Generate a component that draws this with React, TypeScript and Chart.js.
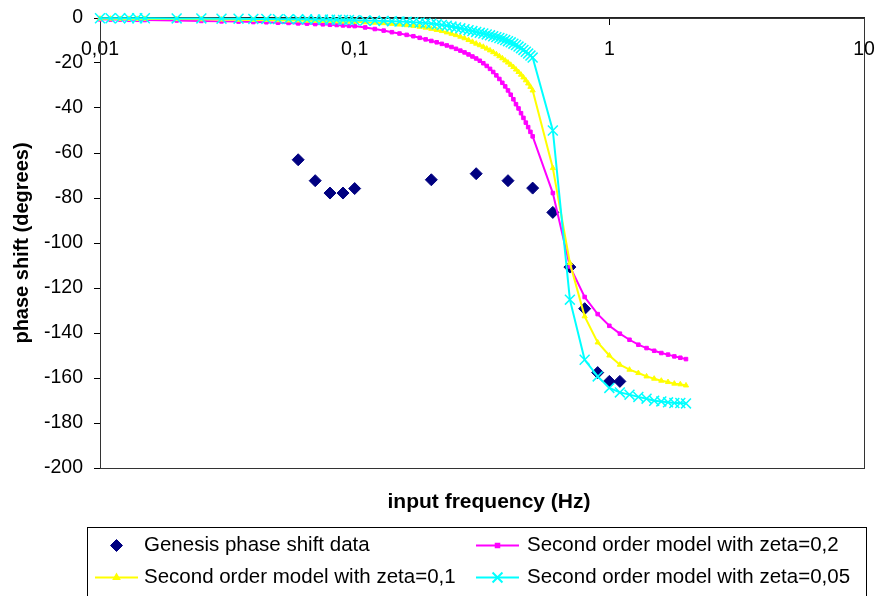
import { useEffect, useRef } from 'react';
import { Chart, registerables } from 'chart.js';
import { drawPoint } from 'chart.js/helpers';

Chart.register(...registerables);

// Input frequencies (Hz) at which the second order models are evaluated
const FREQ_HZ = [
  0.01, 0.011, 0.012, 0.013, 0.014, 0.015,
  0.02, 0.025, 0.03, 0.035,
  0.04, 0.045, 0.05, 0.055, 0.06, 0.065, 0.07, 0.075, 0.08, 0.085, 0.09, 0.095,
  0.1, 0.11, 0.12, 0.13, 0.14, 0.15, 0.16, 0.17, 0.18, 0.19,
  0.2, 0.21, 0.22, 0.23, 0.24, 0.25, 0.26, 0.27, 0.28, 0.29,
  0.3, 0.31, 0.32, 0.33, 0.34, 0.35, 0.36, 0.37, 0.38, 0.39,
  0.4, 0.41, 0.42, 0.43, 0.44, 0.45, 0.46, 0.47, 0.48, 0.49,
  0.5,
  0.6, 0.7, 0.8, 0.9, 1.0, 1.1, 1.2, 1.3, 1.4, 1.5, 1.6, 1.7, 1.8, 1.9, 2.0,
];

// Phase shift (degrees) of the model with zeta = 0,2
const MODEL_ZETA_02 = [
  -0.6, -0.7, -0.7, -0.8, -0.8, -0.9,
  -1.1, -1.3, -1.5, -1.6,
  -1.8, -1.9, -2.1, -2.2, -2.4, -2.5, -2.7, -2.8, -3.0, -3.1, -3.3, -3.5,
  -3.6, -4.2, -4.9, -5.6, -6.3, -6.9, -7.5, -8.1, -8.8, -9.5,
  -10.2, -10.8, -11.5, -12.2, -12.9, -13.7, -14.5, -15.3, -16.2, -17.1,
  -18.0, -19.0, -20.1, -21.3, -22.6, -24.0, -25.5, -27.1, -28.8, -30.4,
  -32.2, -34.1, -36.1, -38.3, -40.2, -42.3, -44.4, -46.5, -48.5, -50.6,
  -52.6,
  -77.8, -110.4, -124.0, -131.6, -136.8, -140.3, -143.0, -145.2, -146.7, -147.9, -148.9, -149.6, -150.4, -151.0, -151.6,
];

// Phase shift (degrees) of the model with zeta = 0,1
const MODEL_ZETA_01 = [
  -0.3, -0.3, -0.4, -0.4, -0.4, -0.4,
  -0.5, -0.6, -0.7, -0.8,
  -0.9, -0.9, -1.0, -1.1, -1.1, -1.2, -1.3, -1.3, -1.4, -1.5, -1.6, -1.6,
  -1.7, -1.9, -2.1, -2.3, -2.6, -2.9, -3.2, -3.5, -3.9, -4.3,
  -4.8, -5.3, -5.8, -6.4, -7.0, -7.6, -8.3, -9.0, -9.8, -10.6,
  -11.4, -12.1, -12.8, -13.6, -14.4, -15.2, -16.1, -17.0, -17.9, -18.9,
  -19.8, -20.8, -21.8, -22.9, -24.0, -25.2, -26.4, -27.7, -29.1, -30.6,
  -32.2,
  -66.7, -108.9, -132.6, -144.2, -150.0, -154.1, -156.3, -157.8, -159.3, -160.3, -161.2, -161.8, -162.5, -162.8, -163.3,
];

// Phase shift (degrees) of the model with zeta = 0,05
const MODEL_ZETA_005 = [
  -0.1, -0.1, -0.1, -0.1, -0.1, -0.1,
  -0.2, -0.2, -0.3, -0.3,
  -0.4, -0.4, -0.5, -0.5, -0.6, -0.6, -0.7, -0.7, -0.8, -0.8, -0.9, -0.9,
  -1.0, -1.1, -1.2, -1.3, -1.4, -1.6, -1.7, -1.9, -2.0, -2.2,
  -2.5, -2.8, -3.1, -3.4, -3.8, -4.2, -4.6, -5.0, -5.4, -5.8,
  -6.2, -6.6, -6.9, -7.3, -7.7, -8.1, -8.5, -8.9, -9.3, -9.8,
  -10.3, -10.8, -11.4, -12.0, -12.7, -13.4, -14.2, -15.0, -15.8, -16.7,
  -17.6,
  -50.0, -125.2, -151.9, -159.3, -164.4, -166.4, -167.4, -168.4, -169.2, -170.1, -170.4, -170.8, -171.1, -171.1, -171.3,
];

// Measured phase shift of the Genesis system
const GENESIS_FREQ = [0.06, 0.07, 0.08, 0.09, 0.1, 0.2, 0.3, 0.4, 0.5, 0.6, 0.7, 0.8, 0.9, 1.0, 1.1];
const GENESIS_PHASE = [-63, -72.3, -77.8, -77.8, -75.8, -71.9, -69.2, -72.3, -75.6, -86.4, -110.7, -129.2, -157.6, -161.5, -161.5];

const X_TICKS = [0.01, 0.1, 1, 10];
const X_TICK_LABELS = ['0,01', '0,1', '1', '10'];
const Y_MIN = -200;
const Y_MAX = 0;
const Y_STEP = 20;

const SERIES_LABELS = [
  'Genesis phase shift data',
  'Second order model with zeta=0,2',
  'Second order model with zeta=0,1',
  'Second order model with zeta=0,05',
];
const X_TITLE = 'input frequency (Hz)';
const Y_TITLE = 'phase shift (degrees)';

const FONT = '"Liberation Sans", Arial, sans-serif';

const toPoints = (xs: number[], ys: number[]) => xs.map((x, i) => ({ x, y: ys[i] }));

const noEdgePadding = (scale: any) => {
  scale.paddingLeft = 0;
  scale.paddingRight = 0;
  scale.paddingTop = 0;
  scale.paddingBottom = 0;
};

// Plot frame, x-axis title and the boxed two-column legend
const decorations = {
  id: 'decorations',
  beforeDatasetsDraw(chart: any) {
    const { ctx, chartArea: a } = chart;
    ctx.save();
    ctx.strokeStyle = '#333';
    ctx.lineWidth = 1;
    ctx.strokeRect(a.left + 0.5, a.top + 0.5, a.right - a.left, a.bottom - a.top);
    ctx.restore();
  },
  afterDraw(chart: any) {
    const { ctx, chartArea: a } = chart;
    ctx.save();
    ctx.fillStyle = '#000';
    ctx.font = `bold 21px ${FONT}`;
    ctx.textAlign = 'center';
    ctx.textBaseline = 'middle';
    ctx.fillText(X_TITLE, 489, a.bottom + 34);

    // legend frame
    const box = { left: 87.5, top: a.bottom + 59.5, right: 866.5, bottom: a.bottom + 140 };
    ctx.strokeStyle = '#000';
    ctx.lineWidth = 1;
    ctx.strokeRect(box.left, box.top, box.right - box.left, box.bottom - box.top);

    const cols = [{ line0: 95, line1: 138, text: 144 }, { line0: 476, line1: 519, text: 527 }];
    const rows = [box.top + 18, box.top + 50];
    const slots = [[0, 0], [1, 0], [0, 1], [1, 1]];
    ctx.font = `20.5px ${FONT}`;
    ctx.textAlign = 'left';
    chart.data.datasets.forEach((ds: any, i: number) => {
      const [c, r] = slots[i];
      const col = cols[c];
      const y = rows[r];
      const mx = (col.line0 + col.line1) / 2;
      if (ds.showLine !== false) {
        ctx.strokeStyle = ds.borderColor;
        ctx.lineWidth = ds.borderWidth;
        ctx.beginPath();
        ctx.moveTo(col.line0, y);
        ctx.lineTo(col.line1, y);
        ctx.stroke();
      }
      ctx.fillStyle = ds.pointBackgroundColor;
      ctx.strokeStyle = ds.pointBorderColor;
      drawPoint(ctx, {
        pointStyle: ds.pointStyle,
        radius: ds.pointRadius,
        rotation: 0,
        borderWidth: ds.pointBorderWidth,
      } as any, mx, y);
      ctx.fillStyle = '#000';
      ctx.fillText(ds.label, col.text, y);
    });
    ctx.restore();
  },
};

export default function App() {
  const canvasRef = useRef<HTMLCanvasElement | null>(null);

  useEffect(() => {
    const canvas = canvasRef.current;
    if (!canvas) return;
    const chart = new Chart(canvas, {
      type: 'line',
      data: {
        datasets: [
          {
            label: SERIES_LABELS[0],
            data: toPoints(GENESIS_FREQ, GENESIS_PHASE),
            showLine: false,
            pointStyle: 'rectRot',
            pointRadius: 6,
            pointBorderWidth: 1,
            pointBackgroundColor: '#000080',
            pointBorderColor: '#000080',
            borderColor: '#000080',
            order: 4,
            clip: false,
          } as any,
          {
            label: SERIES_LABELS[1],
            data: toPoints(FREQ_HZ, MODEL_ZETA_02),
            borderColor: '#FF00FF',
            borderWidth: 2,
            pointStyle: 'rect',
            pointRadius: 2.5,
            pointBorderWidth: 1,
            pointBackgroundColor: '#FF00FF',
            pointBorderColor: '#FF00FF',
            order: 3,
            clip: false,
          },
          {
            label: SERIES_LABELS[2],
            data: toPoints(FREQ_HZ, MODEL_ZETA_01),
            borderColor: '#FFFF00',
            borderWidth: 2,
            pointStyle: 'triangle',
            pointRadius: 3,
            pointBorderWidth: 1,
            pointBackgroundColor: '#FFFF00',
            pointBorderColor: '#FFFF00',
            order: 2,
            clip: false,
          },
          {
            label: SERIES_LABELS[3],
            data: toPoints(FREQ_HZ, MODEL_ZETA_005),
            borderColor: '#00FFFF',
            borderWidth: 2,
            pointStyle: 'crossRot',
            pointRadius: 7,
            pointBorderWidth: 1.5,
            pointBackgroundColor: '#00FFFF',
            pointBorderColor: '#00FFFF',
            order: 1,
            clip: false,
          },
        ],
      },
      options: {
        responsive: false,
        animation: false,
        devicePixelRatio: 1,
        events: [],
        layout: { padding: { left: 0, right: 15, top: 18, bottom: 128 } },
        plugins: { legend: { display: false }, tooltip: { enabled: false }, title: { display: false } },
        scales: {
          x: {
            type: 'logarithmic',
            position: { y: 0 } as any,
            min: X_TICKS[0],
            max: X_TICKS[X_TICKS.length - 1],
            afterBuildTicks: (scale: any) => {
              scale.ticks = X_TICKS.map((value) => ({ value }));
            },
            afterFit: noEdgePadding,
            ticks: {
              color: '#000',
              font: { family: FONT, size: 19.5 },
              padding: 14,
              autoSkip: false,
              maxRotation: 0,
              callback: (value: any) => {
                const i = X_TICKS.indexOf(Number(value));
                return i >= 0 ? X_TICK_LABELS[i] : '';
              },
            },
            grid: { display: true, drawOnChartArea: false, drawTicks: true, tickLength: 6, color: '#000' },
            border: { display: true, color: '#222', width: 2 },
          },
          y: {
            type: 'linear',
            min: Y_MIN,
            max: Y_MAX,
            afterFit: (scale: any) => {
              scale.width = 100;
              noEdgePadding(scale);
            },
            ticks: {
              stepSize: Y_STEP,
              color: '#000',
              font: { family: FONT, size: 19.5 },
              padding: 11,
            },
            grid: { display: true, drawOnChartArea: false, drawTicks: true, tickLength: 6, color: '#000' },
            border: { display: true, color: '#000', width: 1 },
            title: {
              display: true,
              text: Y_TITLE,
              color: '#000',
              font: { family: FONT, size: 20, weight: 'bold' },
              padding: { top: 10, bottom: 0 },
            },
          },
        },
      },
      plugins: [decorations],
    });
    return () => chart.destroy();
  }, []);

  return (
    <div style={{ position: 'absolute', left: 0, top: 0, width: 879, height: 596, background: '#fff' }}>
      <canvas ref={canvasRef} width={879} height={596} style={{ display: 'block' }} />
    </div>
  );
}
